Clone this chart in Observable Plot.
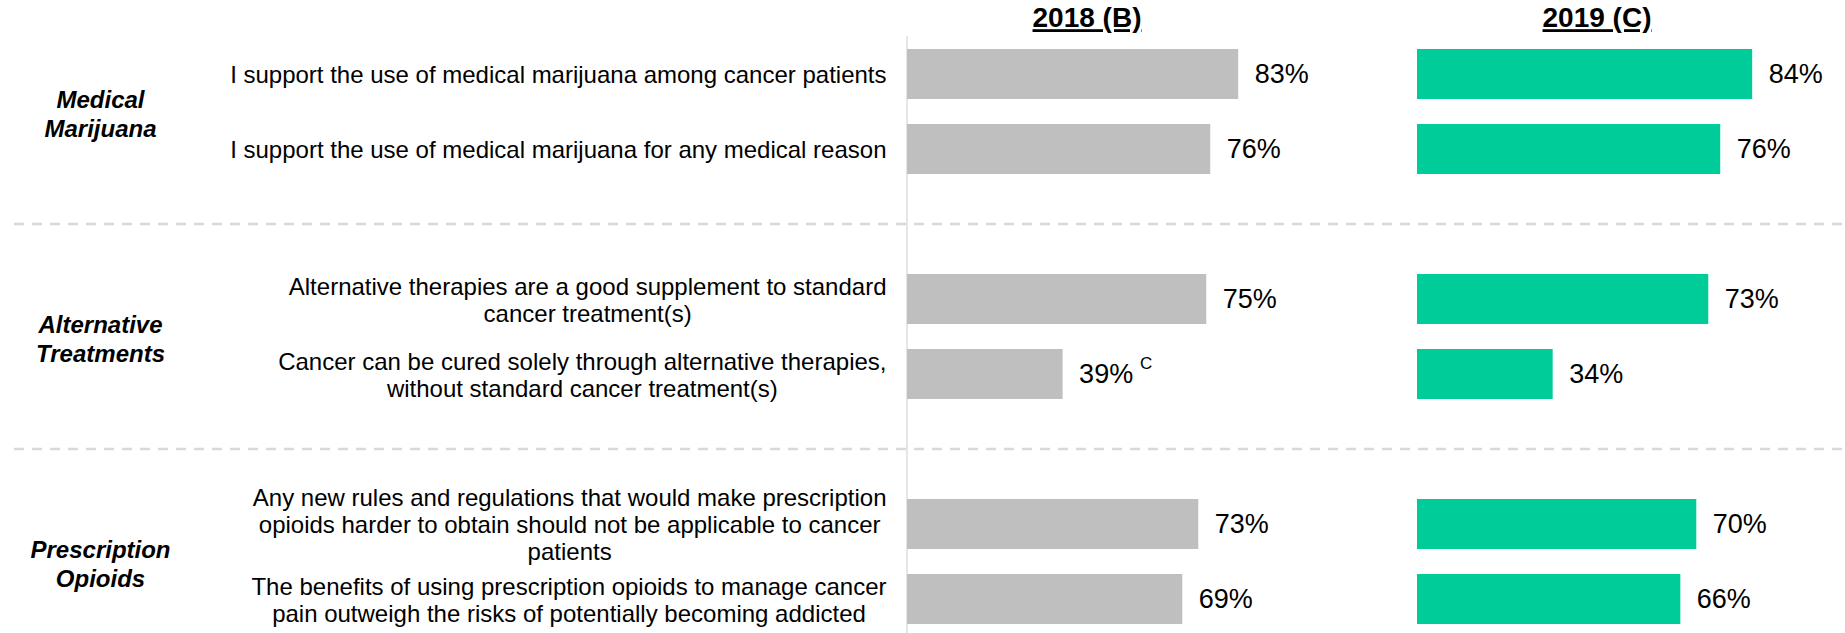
<!DOCTYPE html>
<html><head><meta charset="utf-8">
<script src="https://cdn.jsdelivr.net/npm/d3@7"></script>
<script src="https://cdn.jsdelivr.net/npm/@observablehq/plot@0.6"></script>
<style>
html,body{margin:0;padding:0;background:#fff;}
#chart{width:1845px;height:633px;}
</style></head><body><div id="chart"></div>
<script>
const years = ["2018 (B)", "2019 (C)"];
const groups = ["Medical\nMarijuana", "Alternative\nTreatments", "Prescription\nOpioids"];
const questions = [
  "I support the use of medical marijuana among cancer patients",
  "I support the use of medical marijuana for any medical reason",
  "Alternative therapies are a good supplement to standard\ncancer treatment(s)",
  "Cancer can be cured solely through alternative therapies,\nwithout standard cancer treatment(s)",
  "Any new rules and regulations that would make prescription\nopioids harder to obtain should not be applicable to cancer\npatients",
  "The benefits of using prescription opioids to manage cancer\npain outweigh the risks of potentially becoming addicted"
];
const questionGroup = [0, 0, 1, 1, 2, 2];
const values2018 = [83, 76, 75, 39, 73, 69];
const values2019 = [84, 76, 73, 34, 70, 66];
const sig2018 = ["", "", "", "C", "", ""];
const sig2019 = ["", "", "", "", "", ""];
const palette = ["#BFBFBF", "#00CC99"];

const spacers = groups.slice(0, -1).map((g, i) => `spacer-${i}`);
const yDomain = [];
groups.forEach((g, gi) => {
  questions.forEach((q, qi) => { if (questionGroup[qi] === gi) yDomain.push(q); });
  if (gi < groups.length - 1) yDomain.push(spacers[gi]);
});

const rows = [];
[values2018, values2019].forEach((vals, yi) => vals.forEach((v, qi) =>
  rows.push({year: years[yi], question: questions[qi], value: v, sig: [sig2018, sig2019][yi][qi]})));
const sigRows = rows.filter(d => d.sig);
const groupRows = groups.map((g, gi) => ({year: years[0], group: g, question: questions[questionGroup.indexOf(gi)]}));
const labelRows = questions.map(q => ({year: years[0], question: q}));

const chart = Plot.plot({
  width: 1845, height: 633,
  marginLeft: 906, marginRight: 28, marginTop: 36, marginBottom: 0,
  style: {fontFamily: "Arial, 'Liberation Sans', sans-serif", background: "#fff", overflow: "visible"},
  fx: {domain: years, paddingInner: 0.2172, paddingOuter: 0, axis: null, label: null},
  x: {domain: [0, 100], axis: null},
  y: {domain: yDomain, paddingInner: 0.336, paddingOuter: 0.132, align: 0.593, axis: null},
  color: {domain: years, range: palette},
  marks: [
    Plot.ruleX([years[0]], {fx: d => d, x: 0, stroke: "#D9D9D9", strokeWidth: 1.3, dx: -0.5}),
    Plot.barX(rows, {fx: "year", y: "question", x: "value", fill: "year"}),
    Plot.text(rows, {fx: "year", y: "question", x: "value", text: d => d.value + "%", textAnchor: "start", dx: 16, fontSize: 27, fill: "#000"}),
    Plot.text(sigRows, {fx: "year", y: "question", x: "value", text: "sig", textAnchor: "start", dx: 77, dy: -10.5, fontSize: 17, fill: "#000"}),
    Plot.text(years, {fx: d => d, text: d => d, frameAnchor: "top", lineAnchor: "bottom", dy: -9.3, dx: -20, fontSize: 28, fontWeight: "bold", fill: "#000"}),
    Plot.text(labelRows, {fx: "year", y: "question", text: "question", frameAnchor: "left", textAnchor: "end", dx: -21, fontSize: 24, lineHeight: 1.125, fill: "#000"}),
    Plot.text(groupRows, {fx: "year", y: "question", text: "group", frameAnchor: "left", textAnchor: "middle", dx: -807, dy: 39, fontSize: 24, fontWeight: "bold", fontStyle: "italic", lineHeight: 1.18, fill: "#000"})
  ]
});
document.getElementById("chart").appendChild(chart);

const svg = d3.select(chart);
const flat = new Set(questions.map(q => q.replace(/\n/g, "")));
svg.selectAll("text").filter(function() { return flat.has(this.textContent); }).each(function() {
  const w = this.getBBox().width;
  this.setAttribute("text-anchor", "middle");
  this.setAttribute("transform", (this.getAttribute("transform") || "") + ` translate(${-w / 2},0)`);
});
svg.selectAll("text").filter(function() { return years.includes(this.textContent); }).style("text-decoration", "underline");
const ys = chart.scale("y");
spacers.forEach(s => {
  const yy = ys.apply(s) + ys.bandwidth / 2;
  svg.append("line").attr("x1", 14).attr("x2", 1845).attr("y1", yy).attr("y2", yy)
    .attr("stroke", "#D9D9D9").attr("stroke-width", 2.5).attr("stroke-dasharray", "10,8");
});
</script></body></html>
